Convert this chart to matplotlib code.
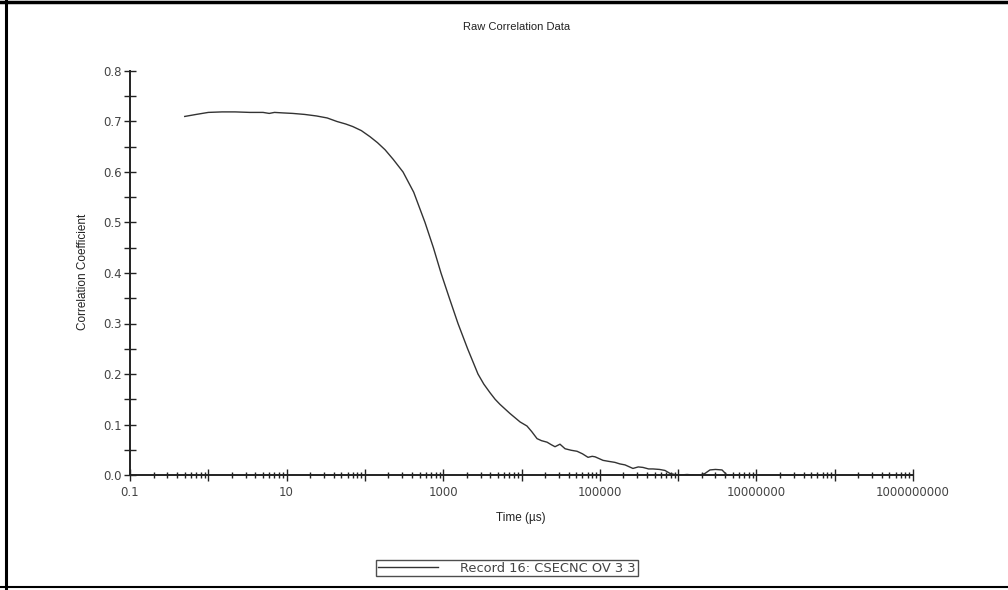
import matplotlib
matplotlib.use("Agg")
import matplotlib.pyplot as plt
from matplotlib.lines import Line2D
from matplotlib.ticker import LogLocator, NullFormatter, FuncFormatter, MultipleLocator

# Raw correlation data (time in µs)
time_us = [0.5, 0.7, 1.0, 1.5, 2.2, 3.4, 5, 6, 7, 9, 12, 17, 24, 33, 44, 57, 70, 90,
           116, 145, 181, 230, 307, 420, 586, 750, 937, 1200, 1545, 2050, 2780, 3300,
           3960, 4600, 5300, 7100, 9600, 11750, 13500, 15800, 18000, 21200, 24000, 26800,
           31000, 36000, 43000, 51200, 60000, 70700, 80000, 87000, 1.1e5, 1.3e5,
           1.56e5, 1.8e5, 2.1e5, 2.65e5, 3.1e5, 3.56e5, 4.2e5, 4.78e5, 5.8e5, 6.8e5,
           7.9e5, 9e5, 1.06e6, 1.3e6, 1.6e6, 1.9e6, 2.2e6, 2.55e6, 3.0e6, 3.64e6, 4.2e6]
corr = [0.710, 0.714, 0.718, 0.719, 0.719, 0.718, 0.718, 0.716, 0.718, 0.717, 0.716,
        0.714, 0.711, 0.707, 0.700, 0.695, 0.690, 0.682, 0.670, 0.658, 0.644, 0.625,
        0.600, 0.560, 0.500, 0.450, 0.400, 0.350, 0.300, 0.250, 0.200, 0.180, 0.163,
        0.150, 0.140, 0.122, 0.105, 0.097, 0.086, 0.072, 0.068, 0.065, 0.060, 0.056,
        0.061, 0.052, 0.049, 0.047, 0.042, 0.035, 0.037, 0.036, 0.029, 0.027, 0.025,
        0.022, 0.020, 0.013, 0.016, 0.015, 0.012, 0.012, 0.011, 0.009, 0.003, 0.001,
        0.000, 0.001, 0.000, 0.000, 0.003, 0.010, 0.011, 0.010, 0.000]

x_ticklabels = ["0.1", "10", "1000", "100000", "10000000", "1000000000"]
x_tickvals = [0.1, 10, 1000, 1e5, 1e7, 1e9]

plt.rcParams['font.family'] = ['DejaVu Sans']
narrow = ['Liberation Sans Narrow', 'Liberation Sans']

fig = plt.figure(figsize=(10.08, 5.9), dpi=100)
ax = fig.add_axes([130 / 1008, 1 - 475 / 590, (913 - 130) / 1008, (475 - 71) / 590])

line, = ax.plot(time_us, corr, color='#333333', lw=1.0)

ax.set_xscale('log')
ax.set_xlim(0.1, 1e9)
ax.set_ylim(0.0, 0.8)

for s in ['top', 'right']:
    ax.spines[s].set_visible(False)
for s in ['left', 'bottom']:
    ax.spines[s].set_linewidth(1.4)
    ax.spines[s].set_color('#222222')

ax.xaxis.set_major_locator(LogLocator(base=10, numticks=20))
ax.xaxis.set_minor_locator(LogLocator(base=10, subs=range(2, 10), numticks=200))
ax.xaxis.set_minor_formatter(NullFormatter())
ax.xaxis.set_major_formatter(FuncFormatter(
    lambda v, p: x_ticklabels[x_tickvals.index(v)] if v in x_tickvals else ""))

ax.yaxis.set_major_locator(MultipleLocator(0.1))
ax.yaxis.set_minor_locator(MultipleLocator(0.05))
ax.yaxis.set_major_formatter(FuncFormatter(lambda v, p: f"{v:.1f}"))

ax.tick_params(axis='both', which='major', direction='inout', length=8, width=1,
               color='#222222', labelsize=8.5, labelcolor='#444444', pad=2)
ax.tick_params(axis='x', which='major', pad=4)
ax.tick_params(axis='y', which='minor', direction='inout', length=8, width=1, color='#222222')
ax.tick_params(axis='x', which='minor', direction='inout', length=4, width=1, color='#222222')

fig.text(517 / 1008, 1 - 27 / 590, "Raw Correlation Data", ha='center', va='center',
         fontsize=8, family=narrow, color='#222222')
fig.text(521 / 1008, 1 - 518 / 590, "Time (µs)", ha='center', va='center',
         fontsize=8.5, family=narrow, color='#222222')
fig.text(83 / 1008, 1 - 272 / 590, "Correlation Coefficient", ha='center', va='center',
         rotation=90, fontsize=8.5, family=narrow, color='#222222')

leg = fig.legend([line], ["Record 16: CSECNC OV 3 3"], loc='center',
                 bbox_to_anchor=(507 / 1008, 1 - 568 / 590), fontsize=9.4,
                 frameon=True, fancybox=False, handlelength=4.6, handletextpad=1.7,
                 borderpad=0.15, borderaxespad=0)
leg.get_frame().set_edgecolor('#222222')
leg.get_frame().set_linewidth(1.0)
for t in leg.get_texts():
    t.set_color('#444444')

# window frame lines (top, left, bottom)
fig.add_artist(Line2D([0, 1], [1 - 1.5 / 590, 1 - 1.5 / 590], transform=fig.transFigure, color='black', lw=2.5))
fig.add_artist(Line2D([6 / 1008, 6 / 1008], [0, 1], transform=fig.transFigure, color='black', lw=2.2))
fig.add_artist(Line2D([0, 1], [3 / 590, 3 / 590], transform=fig.transFigure, color='black', lw=1.5))

fig.savefig("out.png", dpi=100)
